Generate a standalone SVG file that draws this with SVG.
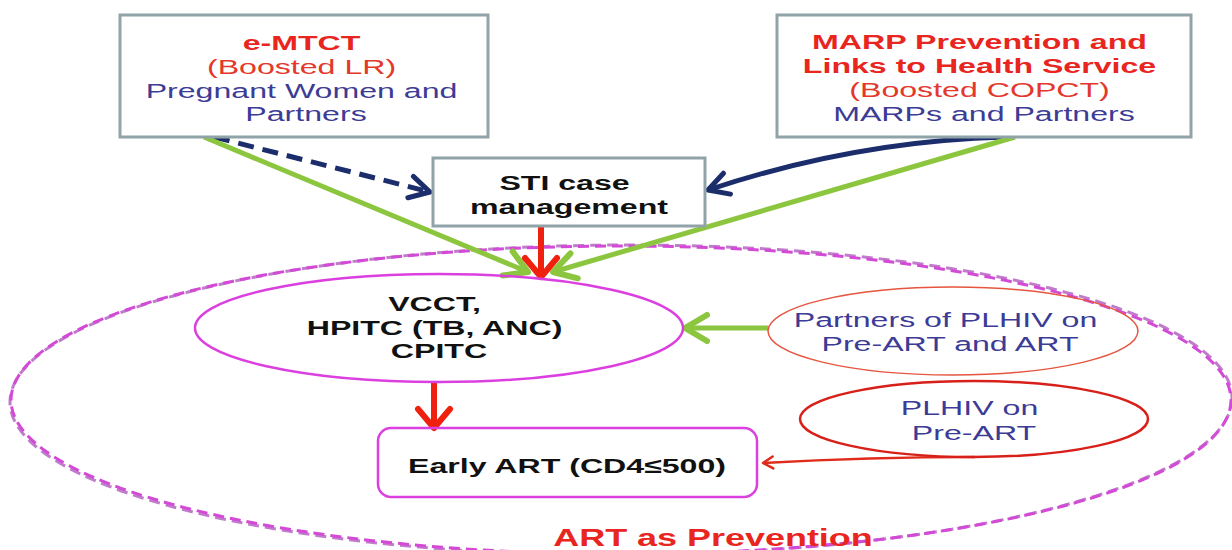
<svg xmlns="http://www.w3.org/2000/svg" width="1232" height="550" viewBox="0 0 1232 550">
<style>
  text { font-family: "Liberation Sans", Arial, sans-serif; font-size: 21px; text-anchor: middle; }
  .b { font-weight: bold; }
  .red { fill: #e8251e; }
  .redn { fill: #e3382b; }
  .blue { fill: #3c3c96; }
  .blk { fill: #111; }
  .box { fill: #fff; stroke: #8fa3a8; stroke-width: 3; }
  .mag { fill: none; stroke: #dc3fe0; stroke-width: 2.5; }
  .bigdash { fill: none; stroke: #d24ad6; stroke-width: 3; stroke-dasharray: 11 6; }
  .bigdash2 { fill: none; stroke: #c07ccb; stroke-width: 3; stroke-dasharray: 11 6; }
  .green { fill: none; stroke: #8cc63f; stroke-width: 5; }
  .navy { fill: none; stroke: #1b2d6b; stroke-width: 5; }
  .navydash { stroke-dasharray: 16 9; }
  .redarr { fill: none; stroke: #f0200e; stroke-width: 6; }
  .redthin { fill: none; stroke: #e02a1a; stroke-width: 2.5; }
</style>
<defs>
  <marker id="mGreen" markerUnits="userSpaceOnUse" markerWidth="60" markerHeight="60" viewBox="-30 -30 60 60" refX="0" refY="0" orient="auto">
    <path d="M-22,-13 L0,0 L-22,13" fill="none" stroke="#8cc63f" stroke-width="6" stroke-linecap="round" stroke-linejoin="round"/>
  </marker>
  <marker id="mNavy" markerUnits="userSpaceOnUse" markerWidth="60" markerHeight="60" viewBox="-30 -30 60 60" refX="0" refY="0" orient="auto">
    <path d="M-20,-11 L0,0 L-20,11" fill="none" stroke="#1b2d6b" stroke-width="5" stroke-linecap="round" stroke-linejoin="round"/>
  </marker>
  <marker id="mRed" markerUnits="userSpaceOnUse" markerWidth="60" markerHeight="60" viewBox="-30 -30 60 60" refX="0" refY="0" orient="auto">
    <path d="M-19,-16 L0,0 L-19,16" fill="none" stroke="#f0200e" stroke-width="6" stroke-linecap="round" stroke-linejoin="round"/>
  </marker>
  <marker id="mRedThin" markerUnits="userSpaceOnUse" markerWidth="30" markerHeight="30" viewBox="-15 -15 30 30" refX="0" refY="0" orient="auto">
    <path d="M-10,-6 L0,0 L-10,6" fill="none" stroke="#e02a1a" stroke-width="2.5" stroke-linecap="round" stroke-linejoin="round"/>
  </marker>
</defs>
<rect x="0" y="0" width="1232" height="550" fill="#fff"/>

<g id="art-as-prevention">
  <ellipse class="bigdash2" cx="621" cy="400" rx="611" ry="155" transform="rotate(-0.2 621 400)"/>
  <ellipse class="bigdash" cx="621" cy="400" rx="610" ry="154"/>
  <text class="b red" transform="translate(713,546) scale(1.53,1)" x="0" y="0" style="font-size:23.5px">ART as Prevention</text>
</g>

<g id="connectors">
  <path class="navy navydash" d="M214,137 L430,192" marker-end="url(#mNavy)"/>
  <path class="navy" d="M1005,137 Q855,141 708,190" marker-end="url(#mNavy)"/>
  <path class="green" d="M204,137 L528,272" marker-end="url(#mGreen)"/>
  <path class="green" d="M1015,137 L553,272" marker-end="url(#mGreen)"/>
  <path class="redarr" d="M541,227 L541,277" marker-end="url(#mRed)"/>
  <path class="redarr" d="M434,381 L434,428" marker-end="url(#mRed)"/>
  <path class="green" d="M768,328 L685,328" marker-end="url(#mGreen)"/>
  <path class="redthin" d="M975,457 Q870,457 763,463" marker-end="url(#mRedThin)"/>
</g>

<g id="emtct">
  <rect class="box" x="120" y="15" width="368" height="122"/>
  <text transform="translate(306,0) scale(1.53,1)">
    <tspan class="b red" x="0" y="50">e-MTCT</tspan>
    <tspan class="redn" x="0" y="74">(Boosted LR)</tspan>
    <tspan class="blue" x="0" y="98">Pregnant Women and</tspan>
    <tspan class="blue" x="0" y="121.5">Partners</tspan>
  </text>
</g>

<g id="marp">
  <rect class="box" x="777" y="15" width="414" height="122"/>
  <text transform="translate(984,0) scale(1.53,1)">
    <tspan class="b red" x="0" y="49">MARP Prevention and</tspan>
    <tspan class="b red" x="0" y="73">Links to Health Service</tspan>
    <tspan class="redn" x="0" y="97">(Boosted COPCT)</tspan>
    <tspan class="blue" x="0" y="121">MARPs and Partners</tspan>
  </text>
</g>

<g id="sti">
  <rect class="box" x="433" y="158" width="272" height="68"/>
  <text class="b blk" transform="translate(569,0) scale(1.53,1)">
    <tspan x="0" y="190">STI case</tspan>
    <tspan x="0" y="214">management</tspan>
  </text>
</g>

<g id="vcct">
  <ellipse class="mag" cx="439" cy="328" rx="244" ry="54"/>
  <text class="b blk" transform="translate(439,0) scale(1.53,1)">
    <tspan x="0" y="311">VCCT,</tspan>
    <tspan x="0" y="335">HPITC (TB, ANC)</tspan>
    <tspan x="0" y="358">CPITC</tspan>
  </text>
</g>

<g id="early-art">
  <rect class="mag" x="378" y="428" width="379" height="69" rx="13" ry="13"/>
  <text class="b blk" transform="translate(567,473) scale(1.53,1)" x="0" y="0">Early ART (CD4≤500)</text>
</g>

<g id="partners">
  <ellipse cx="953" cy="331" rx="185" ry="44" fill="none" stroke="#e5553f" stroke-width="1.5"/>
  <text class="blue" transform="translate(950,0) scale(1.53,1)">
    <tspan x="0" y="327">Partners of PLHIV on</tspan>
    <tspan x="0" y="351">Pre-ART and ART</tspan>
  </text>
</g>

<g id="plhiv">
  <ellipse cx="974" cy="419" rx="174" ry="38" fill="none" stroke="#d8201a" stroke-width="2.5"/>
  <text class="blue" transform="translate(974,0) scale(1.53,1)">
    <tspan x="0" y="415">PLHIV on</tspan>
    <tspan x="0" y="440">Pre-ART</tspan>
  </text>
</g>
</svg>
